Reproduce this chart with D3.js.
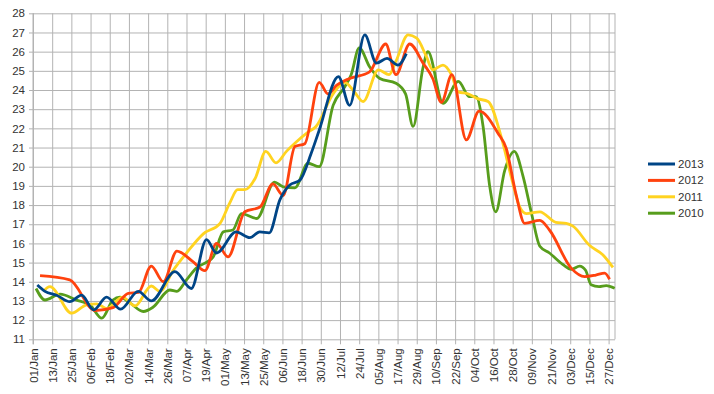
<!DOCTYPE html>
<html>
<head>
<meta charset="utf-8">
<script src="https://cdn.jsdelivr.net/npm/d3@7"></script>
<style>
  body { margin: 0; background: #fff; }
  text { font-family: "Liberation Sans", Arial, sans-serif; fill: #333; }
</style>
</head>
<body>
<div id="chart"></div>
<script>
// tick labels, one every 12 days from 01/Jan
const tickLabels = ['01/Jan','13/Jan','25/Jan','06/Feb','18/Feb','02/Mar','14/Mar','26/Mar','07/Apr','19/Apr',
  '01/May','13/May','25/May','06/Jun','18/Jun','30/Jun','12/Jul','24/Jul','05/Aug','17/Aug','29/Aug',
  '10/Sep','22/Sep','04/Oct','16/Oct','28/Oct','09/Nov','21/Nov','03/Dec','15/Dec','27/Dec'];

const seriesNames = ['2013', '2012', '2011', '2010'];
const seriesColors = ['#004586', '#ff420e', '#ffd320', '#579d1c'];

// day of year (0 = 01/Jan) and temperature
const days2013 = [2.7, 7.5, 14.8, 23, 30.4, 38, 46, 54.8, 65.8, 74, 88.8, 99, 108.5, 114.8, 127, 135.6, 141.8, 147.7,
  154.4, 160.6, 167, 174, 179, 191, 198, 207.5, 214.8, 221.4, 228.3, 233.5];
const temp2013 = [13.83, 13.5, 13.3, 12.96, 13.3, 12.53, 13.2, 12.57, 13.5, 13.0, 14.53, 13.65, 16.2, 15.5, 16.6, 16.3, 16.6, 16.55,
  18.27, 19.05, 19.3, 20.7, 21.9, 24.7, 23.2, 26.87, 25.4, 25.65, 25.3, 25.9];

const days2012 = [4.4, 23, 38.8, 50, 59.6, 66, 74, 81.5, 90, 100, 107.5, 114.8, 122, 132.5, 142, 150, 156.5, 163.8,
  170, 179, 184.5, 190, 198, 210.5, 220.6, 227, 235.6, 244, 250, 255.4, 262, 271, 279, 290.8, 296, 302, 307.5,
  317, 323, 336.7, 345, 352, 357.5, 360.6];
const temp2012 = [14.32, 14.1, 12.5, 12.65, 13.4, 13.45, 14.82, 14.0, 15.6, 15.05, 14.58, 16.0, 15.3, 17.65, 17.9, 19.1, 18.5, 21.05,
  21.2, 24.4, 23.8, 24.25, 24.6, 24.95, 26.4, 24.8, 26.4, 25.4, 24.6, 23.35, 24.8, 21.4, 22.9, 21.75, 20.95, 18.6, 17.05,
  17.2, 16.7, 14.7, 14.27, 14.35, 14.45, 14.13];

const days2011 = [6.4, 10.6, 24.2, 33.5, 40, 46, 56, 63.8, 74, 79.4, 87.7, 96, 106.5, 117, 123, 128, 132.5, 139, 145.6,
  152, 158.5, 164.8, 172, 177, 187.7, 195, 201, 206.5, 216, 222.7, 227, 234.6, 240, 246, 250, 256.4, 261.7, 266,
  272, 278, 284.6, 293, 299, 304.4, 308.5, 317, 327, 333.5, 337.7, 348, 356.5, 362.7];
const temp2011 = [13.5, 13.75, 12.36, 12.8, 12.85, 12.6, 13.2, 12.74, 13.78, 13.5, 14.6, 15.5, 16.5, 17.05, 18.1, 18.8, 18.8, 19.4, 20.8,
  20.2, 20.8, 21.3, 21.8, 22.1, 23.8, 24.4, 23.9, 23.4, 25.05, 24.8, 25.5, 26.87, 26.7, 25.75, 25.05, 25.3, 24.8, 23.9,
  23.8, 23.55, 23.4, 21.5, 19.5, 17.9, 17.55, 17.65, 17.1, 17.05, 16.9, 15.9, 15.4, 14.75];

const days2010 = [1.9, 7.5, 17, 27, 35.6, 43, 50, 54.4, 60.6, 69, 75, 85.6, 90, 96, 102, 112.7, 119, 125, 130.4, 140,
  151, 156.5, 163.8, 172, 179, 187.7, 195, 199, 204, 210.6, 216.9, 227, 233, 237.7, 244, 247, 256.5, 266, 273, 277,
  281.5, 285.6, 289.4, 295, 301, 306.5, 311.7, 317, 323, 331.4, 336.7, 341.9, 345.6, 349, 354, 358.5, 363.8];
const temp2010 = [13.65, 13.05, 13.36, 13.05, 12.8, 12.1, 13.05, 13.2, 12.9, 12.45, 12.67, 13.57, 13.5, 14.1, 14.7, 15.3, 16.6, 16.7, 17.55, 17.3,
  19.2, 18.95, 18.9, 20.18, 20.0, 23.2, 24.17, 24.8, 26.2, 25.2, 24.6, 24.35, 23.8, 22.1, 25.2, 26.0, 23.3, 24.45, 23.65, 23.65,
  22.1, 19.0, 17.65, 19.8, 20.8, 19.5, 17.6, 15.85, 15.5, 14.9, 14.65, 14.82, 14.6, 13.85, 13.75, 13.8, 13.66];

const seriesDays = [days2013, days2012, days2011, days2010];
const seriesTemps = [temp2013, temp2012, temp2011, temp2010];

const width = 714, height = 394;
const margin = { left: 33, right: 99, top: 13.3, bottom: 54.7 };

const svg = d3.select('#chart').append('svg').attr('width', width).attr('height', height);

const x = d3.scaleLinear().domain([0, 364]).range([margin.left, width - margin.right]);
const y = d3.scaleLinear().domain([11, 28]).range([height - margin.bottom, margin.top]);

// vertical grid + bottom axis
const xAxis = d3.axisBottom(x)
  .tickValues(tickLabels.map((d, i) => i * 12))
  .tickFormat((d, i) => tickLabels[i])
  .tickSize(-(y(11) - y(28)) - 0)
  .tickPadding(0);

const gx = svg.append('g').attr('transform', `translate(0,${y(11)})`).call(xAxis);
gx.select('.domain').remove();
gx.selectAll('.tick line').attr('stroke', '#b3b3b3').attr('y2', -(y(11) - y(28))).attr('y1', 5);
gx.selectAll('.tick text')
  .attr('transform', 'rotate(-90)')
  .attr('text-anchor', 'end')
  .attr('x', -9).attr('y', 0).attr('dy', '0.35em')
  .style('font-size', '11.5px');

// horizontal grid + left axis
const yAxis = d3.axisLeft(y).ticks(17).tickFormat(d3.format('d'));
const gy = svg.append('g').attr('transform', `translate(${x(0)},0)`).call(yAxis);
gy.select('.domain').remove();
gy.selectAll('.tick line').attr('stroke', '#b3b3b3').attr('x1', -4).attr('x2', x(364) - x(0));
gy.selectAll('.tick text').attr('x', -8).style('font-size', '11.5px');

// frame lines
svg.append('line').attr('x1', x(0)).attr('x2', x(0)).attr('y1', y(28)).attr('y2', y(11) + 5).attr('stroke', '#b3b3b3');
svg.append('line').attr('x1', x(364)).attr('x2', x(364)).attr('y1', y(28)).attr('y2', y(11)).attr('stroke', '#b3b3b3');
svg.selectAll('.domain').remove();
svg.selectAll('.tick').attr('font-family', null);

// series lines, 2010 first so 2013 sits on top
const line = d3.line()
  .x(d => x(d[0]))
  .y(d => y(d[1]))
  .curve(d3.curveMonotoneX);

for (let i = seriesNames.length - 1; i >= 0; i--) {
  const pts = seriesDays[i].map((d, j) => [d, seriesTemps[i][j]]);
  svg.append('path')
    .datum(pts)
    .attr('fill', 'none')
    .attr('stroke', seriesColors[i])
    .attr('stroke-width', 2.8)
    .attr('stroke-linejoin', 'round')
    .attr('d', line);
}

// legend
const legend = svg.append('g').attr('transform', 'translate(648,164)');
seriesNames.forEach((name, i) => {
  const g = legend.append('g').attr('transform', `translate(0,${i * 16.4})`);
  g.append('line').attr('x1', 0).attr('x2', 27).attr('stroke', seriesColors[i]).attr('stroke-width', 3);
  g.append('text').attr('x', 30).attr('dy', '0.35em').style('font-size', '11.5px').text(name);
});
</script>
</body>
</html>
